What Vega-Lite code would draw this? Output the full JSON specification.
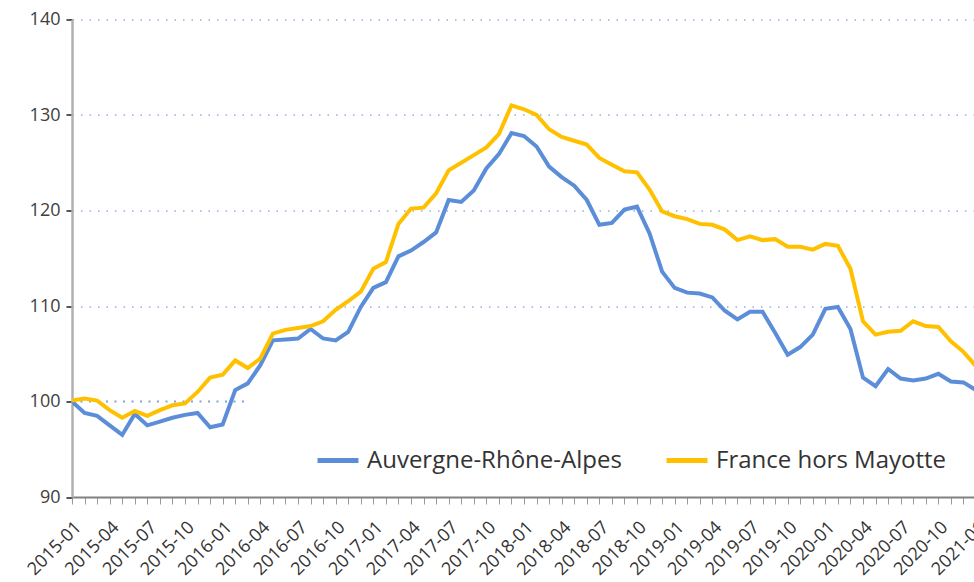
{
  "$schema": "https://vega.github.io/schema/vega-lite/v6.json",
  "width": 902,
  "height": 477.5,
  "autosize": {"type": "none"},
  "padding": {"left": 72, "top": 19.5, "right": 0, "bottom": 85},
  "background": "white",
  "config": {
    "font": "Open Sans",
    "view": {"stroke": null}
  },
  "datasets": {
    "series": [
      {"month":"2015-01","series":"Auvergne-Rhône-Alpes","value":100.0},
      {"month":"2015-02","series":"Auvergne-Rhône-Alpes","value":98.8},
      {"month":"2015-03","series":"Auvergne-Rhône-Alpes","value":98.5},
      {"month":"2015-04","series":"Auvergne-Rhône-Alpes","value":97.5},
      {"month":"2015-05","series":"Auvergne-Rhône-Alpes","value":96.5},
      {"month":"2015-06","series":"Auvergne-Rhône-Alpes","value":98.7},
      {"month":"2015-07","series":"Auvergne-Rhône-Alpes","value":97.5},
      {"month":"2015-08","series":"Auvergne-Rhône-Alpes","value":97.9},
      {"month":"2015-09","series":"Auvergne-Rhône-Alpes","value":98.3},
      {"month":"2015-10","series":"Auvergne-Rhône-Alpes","value":98.6},
      {"month":"2015-11","series":"Auvergne-Rhône-Alpes","value":98.8},
      {"month":"2015-12","series":"Auvergne-Rhône-Alpes","value":97.3},
      {"month":"2016-01","series":"Auvergne-Rhône-Alpes","value":97.6},
      {"month":"2016-02","series":"Auvergne-Rhône-Alpes","value":101.2},
      {"month":"2016-03","series":"Auvergne-Rhône-Alpes","value":101.9},
      {"month":"2016-04","series":"Auvergne-Rhône-Alpes","value":103.8},
      {"month":"2016-05","series":"Auvergne-Rhône-Alpes","value":106.4},
      {"month":"2016-06","series":"Auvergne-Rhône-Alpes","value":106.5},
      {"month":"2016-07","series":"Auvergne-Rhône-Alpes","value":106.6},
      {"month":"2016-08","series":"Auvergne-Rhône-Alpes","value":107.6},
      {"month":"2016-09","series":"Auvergne-Rhône-Alpes","value":106.6},
      {"month":"2016-10","series":"Auvergne-Rhône-Alpes","value":106.4},
      {"month":"2016-11","series":"Auvergne-Rhône-Alpes","value":107.3},
      {"month":"2016-12","series":"Auvergne-Rhône-Alpes","value":109.9},
      {"month":"2017-01","series":"Auvergne-Rhône-Alpes","value":111.9},
      {"month":"2017-02","series":"Auvergne-Rhône-Alpes","value":112.5},
      {"month":"2017-03","series":"Auvergne-Rhône-Alpes","value":115.2},
      {"month":"2017-04","series":"Auvergne-Rhône-Alpes","value":115.8},
      {"month":"2017-05","series":"Auvergne-Rhône-Alpes","value":116.7},
      {"month":"2017-06","series":"Auvergne-Rhône-Alpes","value":117.7},
      {"month":"2017-07","series":"Auvergne-Rhône-Alpes","value":121.1},
      {"month":"2017-08","series":"Auvergne-Rhône-Alpes","value":120.9},
      {"month":"2017-09","series":"Auvergne-Rhône-Alpes","value":122.1},
      {"month":"2017-10","series":"Auvergne-Rhône-Alpes","value":124.4},
      {"month":"2017-11","series":"Auvergne-Rhône-Alpes","value":125.9},
      {"month":"2017-12","series":"Auvergne-Rhône-Alpes","value":128.1},
      {"month":"2018-01","series":"Auvergne-Rhône-Alpes","value":127.8},
      {"month":"2018-02","series":"Auvergne-Rhône-Alpes","value":126.7},
      {"month":"2018-03","series":"Auvergne-Rhône-Alpes","value":124.6},
      {"month":"2018-04","series":"Auvergne-Rhône-Alpes","value":123.5},
      {"month":"2018-05","series":"Auvergne-Rhône-Alpes","value":122.6},
      {"month":"2018-06","series":"Auvergne-Rhône-Alpes","value":121.1},
      {"month":"2018-07","series":"Auvergne-Rhône-Alpes","value":118.5},
      {"month":"2018-08","series":"Auvergne-Rhône-Alpes","value":118.7},
      {"month":"2018-09","series":"Auvergne-Rhône-Alpes","value":120.1},
      {"month":"2018-10","series":"Auvergne-Rhône-Alpes","value":120.4},
      {"month":"2018-11","series":"Auvergne-Rhône-Alpes","value":117.6},
      {"month":"2018-12","series":"Auvergne-Rhône-Alpes","value":113.6},
      {"month":"2019-01","series":"Auvergne-Rhône-Alpes","value":111.9},
      {"month":"2019-02","series":"Auvergne-Rhône-Alpes","value":111.4},
      {"month":"2019-03","series":"Auvergne-Rhône-Alpes","value":111.3},
      {"month":"2019-04","series":"Auvergne-Rhône-Alpes","value":110.9},
      {"month":"2019-05","series":"Auvergne-Rhône-Alpes","value":109.5},
      {"month":"2019-06","series":"Auvergne-Rhône-Alpes","value":108.6},
      {"month":"2019-07","series":"Auvergne-Rhône-Alpes","value":109.4},
      {"month":"2019-08","series":"Auvergne-Rhône-Alpes","value":109.4},
      {"month":"2019-09","series":"Auvergne-Rhône-Alpes","value":107.2},
      {"month":"2019-10","series":"Auvergne-Rhône-Alpes","value":104.9},
      {"month":"2019-11","series":"Auvergne-Rhône-Alpes","value":105.7},
      {"month":"2019-12","series":"Auvergne-Rhône-Alpes","value":107.0},
      {"month":"2020-01","series":"Auvergne-Rhône-Alpes","value":109.7},
      {"month":"2020-02","series":"Auvergne-Rhône-Alpes","value":109.9},
      {"month":"2020-03","series":"Auvergne-Rhône-Alpes","value":107.6},
      {"month":"2020-04","series":"Auvergne-Rhône-Alpes","value":102.5},
      {"month":"2020-05","series":"Auvergne-Rhône-Alpes","value":101.6},
      {"month":"2020-06","series":"Auvergne-Rhône-Alpes","value":103.4},
      {"month":"2020-07","series":"Auvergne-Rhône-Alpes","value":102.4},
      {"month":"2020-08","series":"Auvergne-Rhône-Alpes","value":102.2},
      {"month":"2020-09","series":"Auvergne-Rhône-Alpes","value":102.4},
      {"month":"2020-10","series":"Auvergne-Rhône-Alpes","value":102.9},
      {"month":"2020-11","series":"Auvergne-Rhône-Alpes","value":102.1},
      {"month":"2020-12","series":"Auvergne-Rhône-Alpes","value":102.0},
      {"month":"2021-01","series":"Auvergne-Rhône-Alpes","value":101.2},
      {"month":"2015-01","series":"France hors Mayotte","value":100.1},
      {"month":"2015-02","series":"France hors Mayotte","value":100.3},
      {"month":"2015-03","series":"France hors Mayotte","value":100.1},
      {"month":"2015-04","series":"France hors Mayotte","value":99.1},
      {"month":"2015-05","series":"France hors Mayotte","value":98.3},
      {"month":"2015-06","series":"France hors Mayotte","value":99.0},
      {"month":"2015-07","series":"France hors Mayotte","value":98.5},
      {"month":"2015-08","series":"France hors Mayotte","value":99.1},
      {"month":"2015-09","series":"France hors Mayotte","value":99.6},
      {"month":"2015-10","series":"France hors Mayotte","value":99.8},
      {"month":"2015-11","series":"France hors Mayotte","value":101.0},
      {"month":"2015-12","series":"France hors Mayotte","value":102.5},
      {"month":"2016-01","series":"France hors Mayotte","value":102.8},
      {"month":"2016-02","series":"France hors Mayotte","value":104.3},
      {"month":"2016-03","series":"France hors Mayotte","value":103.5},
      {"month":"2016-04","series":"France hors Mayotte","value":104.5},
      {"month":"2016-05","series":"France hors Mayotte","value":107.1},
      {"month":"2016-06","series":"France hors Mayotte","value":107.5},
      {"month":"2016-07","series":"France hors Mayotte","value":107.7},
      {"month":"2016-08","series":"France hors Mayotte","value":107.9},
      {"month":"2016-09","series":"France hors Mayotte","value":108.4},
      {"month":"2016-10","series":"France hors Mayotte","value":109.6},
      {"month":"2016-11","series":"France hors Mayotte","value":110.5},
      {"month":"2016-12","series":"France hors Mayotte","value":111.5},
      {"month":"2017-01","series":"France hors Mayotte","value":113.9},
      {"month":"2017-02","series":"France hors Mayotte","value":114.6},
      {"month":"2017-03","series":"France hors Mayotte","value":118.6},
      {"month":"2017-04","series":"France hors Mayotte","value":120.2},
      {"month":"2017-05","series":"France hors Mayotte","value":120.3},
      {"month":"2017-06","series":"France hors Mayotte","value":121.8},
      {"month":"2017-07","series":"France hors Mayotte","value":124.2},
      {"month":"2017-08","series":"France hors Mayotte","value":125.0},
      {"month":"2017-09","series":"France hors Mayotte","value":125.8},
      {"month":"2017-10","series":"France hors Mayotte","value":126.6},
      {"month":"2017-11","series":"France hors Mayotte","value":128.0},
      {"month":"2017-12","series":"France hors Mayotte","value":131.0},
      {"month":"2018-01","series":"France hors Mayotte","value":130.6},
      {"month":"2018-02","series":"France hors Mayotte","value":130.0},
      {"month":"2018-03","series":"France hors Mayotte","value":128.5},
      {"month":"2018-04","series":"France hors Mayotte","value":127.7},
      {"month":"2018-05","series":"France hors Mayotte","value":127.3},
      {"month":"2018-06","series":"France hors Mayotte","value":126.9},
      {"month":"2018-07","series":"France hors Mayotte","value":125.5},
      {"month":"2018-08","series":"France hors Mayotte","value":124.8},
      {"month":"2018-09","series":"France hors Mayotte","value":124.1},
      {"month":"2018-10","series":"France hors Mayotte","value":124.0},
      {"month":"2018-11","series":"France hors Mayotte","value":122.2},
      {"month":"2018-12","series":"France hors Mayotte","value":119.9},
      {"month":"2019-01","series":"France hors Mayotte","value":119.4},
      {"month":"2019-02","series":"France hors Mayotte","value":119.1},
      {"month":"2019-03","series":"France hors Mayotte","value":118.6},
      {"month":"2019-04","series":"France hors Mayotte","value":118.5},
      {"month":"2019-05","series":"France hors Mayotte","value":118.0},
      {"month":"2019-06","series":"France hors Mayotte","value":116.9},
      {"month":"2019-07","series":"France hors Mayotte","value":117.3},
      {"month":"2019-08","series":"France hors Mayotte","value":116.9},
      {"month":"2019-09","series":"France hors Mayotte","value":117.0},
      {"month":"2019-10","series":"France hors Mayotte","value":116.2},
      {"month":"2019-11","series":"France hors Mayotte","value":116.2},
      {"month":"2019-12","series":"France hors Mayotte","value":115.9},
      {"month":"2020-01","series":"France hors Mayotte","value":116.5},
      {"month":"2020-02","series":"France hors Mayotte","value":116.3},
      {"month":"2020-03","series":"France hors Mayotte","value":113.9},
      {"month":"2020-04","series":"France hors Mayotte","value":108.4},
      {"month":"2020-05","series":"France hors Mayotte","value":107.0},
      {"month":"2020-06","series":"France hors Mayotte","value":107.3},
      {"month":"2020-07","series":"France hors Mayotte","value":107.4},
      {"month":"2020-08","series":"France hors Mayotte","value":108.4},
      {"month":"2020-09","series":"France hors Mayotte","value":107.9},
      {"month":"2020-10","series":"France hors Mayotte","value":107.8},
      {"month":"2020-11","series":"France hors Mayotte","value":106.3},
      {"month":"2020-12","series":"France hors Mayotte","value":105.2},
      {"month":"2021-01","series":"France hors Mayotte","value":103.7}
    ],
    "gridpart": [
      {"from":"2015-01","to":"2016-03","value":100}
    ]
  },
  "layer": [
    {
      "data": {"name": "gridpart"},
      "mark": {"type": "rule", "color": "#7ea3dc", "strokeWidth": 2, "strokeDash": [2, 6.5]},
      "encoding": {
        "x": {"field": "from", "type": "ordinal"},
        "x2": {"field": "to"},
        "y": {"field": "value", "type": "quantitative"}
      }
    },
    {
      "data": {"name": "series"},
      "mark": {"type": "line", "strokeWidth": 4, "clip": true, "interpolate": "linear"},
      "encoding": {
        "x": {
          "field": "month",
          "type": "ordinal",
          "scale": {"type": "point", "padding": 0, "range": [0, 904]},
          "axis": {
            "title": null,
            "labelAngle": -45,
            "labelAlign": "right",
            "labelBaseline": "top",
            "labelExpr": "(toNumber(substring(datum.value,5,7)) - 1) % 3 == 0 ? datum.value : ''",
            "labelOverlap": false,
            "labelBound": false,
            "labelFontSize": 18,
            "labelColor": "#333333",
            "labelPadding": 14,
            "domainColor": "#808080",
            "domainWidth": 2,
            "tickColor": "#9a9a9a",
            "tickWidth": 1,
            "tickSize": 7,
            "grid": false
          }
        },
        "y": {
          "field": "value",
          "type": "quantitative",
          "scale": {"domain": [90, 140], "nice": false, "zero": false},
          "axis": {
            "title": null,
            "values": [90, 100, 110, 120, 130, 140],
            "labelFontSize": 18,
            "labelColor": "#404040",
            "labelPadding": 6,
            "domainColor": "#b0b0b0",
            "domainWidth": 2.5,
            "tickColor": "#555555",
            "tickWidth": 2,
            "tickSize": 6,
            "grid": true,
            "gridColor": "#8fb0e0",
            "gridWidth": 1.5,
            "gridDash": [1.5, 7],
            "gridOpacity": {"condition": {"test": "datum.value == 100 || datum.value == 90", "value": 0}, "value": 1}
          }
        },
        "color": {
          "field": "series",
          "type": "nominal",
          "scale": {"domain": ["Auvergne-Rhône-Alpes", "France hors Mayotte"], "range": ["#5b8dd9", "#ffc000"]},
          "legend": {
            "title": null,
            "orient": "none",
            "legendX": 243,
            "legendY": 418,
            "direction": "horizontal",
            "symbolType": "stroke",
            "symbolSize": 1681,
            "symbolStrokeWidth": 5,
            "labelFontSize": 24,
            "labelColor": "#333333",
            "labelOffset": 6,
            "columnPadding": 34,
            "labelLimit": 400
          }
        }
      }
    }
  ]
}
